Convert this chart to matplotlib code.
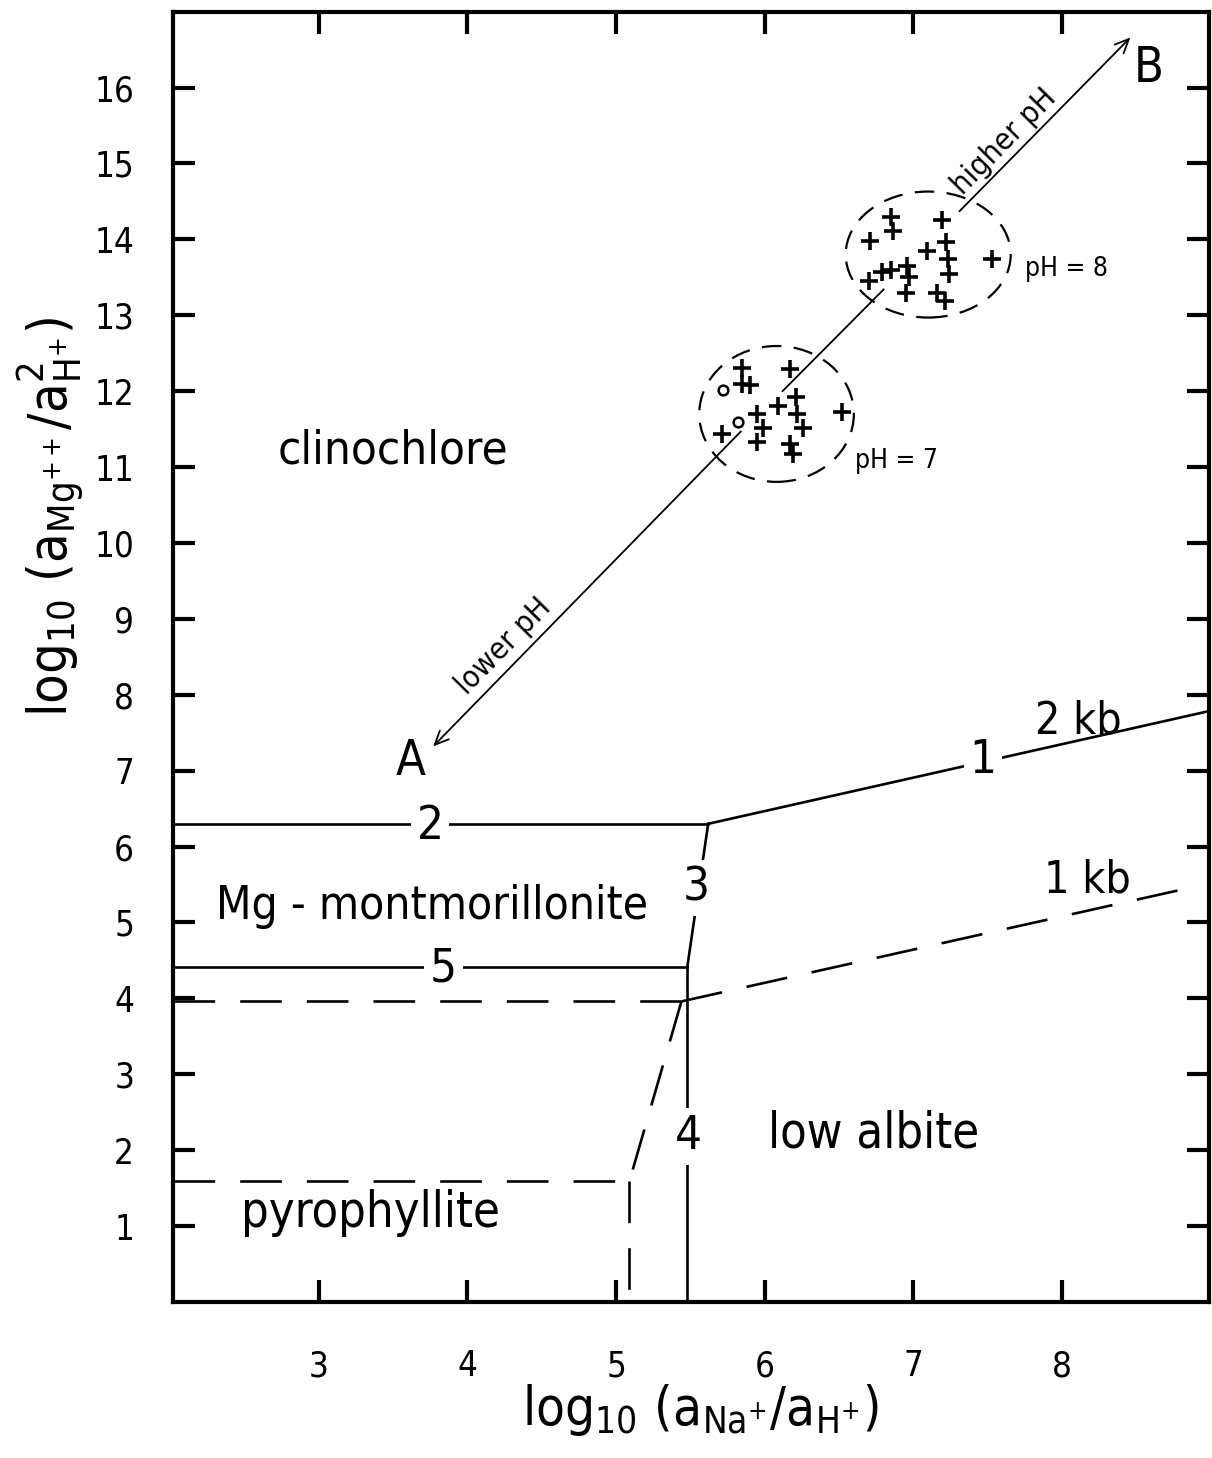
import matplotlib
matplotlib.use("Agg")
import matplotlib.pyplot as plt
from matplotlib.patches import Ellipse

plt.rcParams['font.family'] = ['DejaVu Sans']
plt.rcParams['font.stretch'] = 'condensed'
plt.rcParams['mathtext.default'] = 'regular'
plt.rcParams['lines.scale_dashes'] = False

# axes: log10(aNa+/aH+) vs log10(aMg++/a2H+)
x_ticks = [3, 4, 5, 6, 7, 8]
y_ticks = list(range(1, 17))

# 2 kb phase boundaries (solid), numbered as in the reaction list
bnd1_x, bnd1_y = [5.62, 9.00], [6.30, 7.79]
bnd2_x, bnd2_y = [2.02, 5.62], [6.30, 6.30]
bnd3_x, bnd3_y = [5.62, 5.48], [6.30, 4.42]
bnd4_x, bnd4_y = [5.48, 5.48], [4.42, 0.00]
bnd5_x, bnd5_y = [2.02, 5.48], [4.42, 4.42]

# 1 kb phase boundaries (dashed)
kb1_x = [[2.02, 5.44], [5.44, 8.89], [5.44, 5.09], [2.02, 5.09], [5.09, 5.09]]
kb1_y = [[3.96, 3.96], [3.96, 5.47], [3.96, 1.59], [1.59, 1.59], [1.59, 0.00]]

# measured fluids
ph7_x = [5.85, 6.17, 5.85, 5.90, 6.09, 6.21, 6.22, 6.26, 6.52, 5.71,
         5.95, 5.99, 5.95, 6.17, 6.19]
ph7_y = [12.30, 12.29, 12.09, 12.08, 11.80, 11.92, 11.70, 11.52, 11.72, 11.43,
         11.70, 11.52, 11.33, 11.30, 11.17]
ph7_open_x = [5.72, 5.82]
ph7_open_y = [12.02, 11.59]
ph8_x = [6.85, 6.86, 6.71, 7.19, 7.09, 7.22, 7.23, 7.24, 7.53, 6.70,
         6.79, 6.85, 6.96, 6.97, 6.95, 7.16, 7.21]
ph8_y = [14.30, 14.11, 13.98, 14.26, 13.85, 13.96, 13.74, 13.54, 13.74, 13.45,
         13.57, 13.59, 13.65, 13.50, 13.30, 13.30, 13.19]

# pH trend line A -> B, broken where it crosses the two groups
trend_x = [[3.77, 5.84], [6.12, 6.80], [7.31, 8.46]]
trend_y = [[7.32, 11.47], [12.00, 13.34], [14.37, 16.66]]

fig = plt.figure(figsize=(12.12, 14.58), dpi=100)
ax = fig.add_axes([0.1427, 0.107, 0.855, 0.885])

lw = 1.9
dash = (0, (30, 18))
ax.plot(bnd1_x, bnd1_y, color='black', lw=lw)
ax.plot(bnd2_x, bnd2_y, color='black', lw=lw)
ax.plot(bnd3_x, bnd3_y, color='black', lw=lw)
ax.plot(bnd4_x, bnd4_y, color='black', lw=lw)
ax.plot(bnd5_x, bnd5_y, color='black', lw=lw)
for xs, ys in zip(kb1_x, kb1_y):
    ax.plot(xs, ys, color='black', lw=lw, ls=dash)

ax.plot(ph7_x, ph7_y, ls='none', marker='+', ms=13, mew=2.6, color='black')
ax.plot(ph7_open_x, ph7_open_y, ls='none', marker='o', ms=7, mew=1.8,
        mfc='white', mec='black')
ax.plot(ph8_x, ph8_y, ls='none', marker='+', ms=13, mew=2.6, color='black')

ax.add_patch(Ellipse((6.08, 11.70), 1.04, 1.79, fill=False, lw=1.6,
                     ls=(0, (14, 9)), ec='black'))
ax.add_patch(Ellipse((7.10, 13.80), 1.11, 1.66, fill=False, lw=1.6,
                     ls=(0, (14, 9)), ec='black'))

# trend line with open arrow heads at both ends
head = '->,head_length=1.0,head_width=0.45'
ax.annotate('', xy=(trend_x[0][0], trend_y[0][0]), xytext=(trend_x[0][1], trend_y[0][1]),
            arrowprops=dict(arrowstyle=head, lw=1.3, color='black', shrinkA=0, shrinkB=0))
ax.plot(trend_x[1], trend_y[1], color='black', lw=1.3)
ax.annotate('', xy=(trend_x[2][1], trend_y[2][1]), xytext=(trend_x[2][0], trend_y[2][0]),
            arrowprops=dict(arrowstyle=head, lw=1.3, color='black', shrinkA=0, shrinkB=0))

ax.text(4.24, 8.64, 'lower pH', fontsize=22, rotation=45.5, ha='center', va='center')
ax.text(7.61, 15.29, 'higher pH', fontsize=22, rotation=45.5, ha='center', va='center')
ax.text(3.62, 7.13, 'A', fontsize=35, ha='center', va='center')
ax.text(8.58, 16.26, 'B', fontsize=35, ha='center', va='center')
ax.text(6.89, 11.08, 'pH = 7', fontsize=19, ha='center', va='center')
ax.text(8.03, 13.61, 'pH = 8', fontsize=19, ha='center', va='center')

# boundary numbers sit in gaps of their lines
gap = dict(facecolor='white', edgecolor='none', pad=4)
ax.text(3.75, 6.27, '2', fontsize=34, ha='center', va='center', bbox=gap)
ax.text(3.84, 4.39, '5', fontsize=34, ha='center', va='center', bbox=gap)
ax.text(5.54, 5.45, '3', fontsize=34, ha='center', va='center', bbox=gap)
ax.text(5.49, 2.18, '4', fontsize=34, ha='center', va='center', bbox=gap)
ax.text(7.47, 7.13, '1', fontsize=34, ha='center', va='center', bbox=gap)
ax.text(8.11, 7.66, '2 kb', fontsize=32, ha='center', va='center')
ax.text(8.17, 5.56, '1 kb', fontsize=32, ha='center', va='center')

# stability fields
ax.text(3.50, 11.21, 'clinochlore', fontsize=34, ha='center', va='center')
ax.text(3.76, 5.21, 'Mg - montmorillonite', fontsize=33, ha='center', va='center')
ax.text(6.73, 2.22, 'low albite', fontsize=35, ha='center', va='center')
ax.text(3.35, 1.17, 'pyrophyllite', fontsize=35, ha='center', va='center')

ax.set_xlim(2.02, 8.99)
ax.set_ylim(0, 17)
ax.set_xticks(x_ticks)
ax.set_yticks(y_ticks)
ax.tick_params(direction='in', length=16, width=3, top=True, right=True,
               labelsize=25)
ax.tick_params(axis='x', pad=34)
ax.tick_params(axis='y', pad=28)
for s in ax.spines.values():
    s.set_linewidth(3)

fig.text(700 / 1212, 1 - 1425 / 1458, r'$log_{10}\ (a_{Na^{+}}/a_{H^{+}})$',
         fontsize=38, ha='center', va='baseline')
fig.text(68 / 1212, 1 - 517 / 1458, r'$log_{10}\ (a_{Mg^{++}}/a^{2}_{H^{+}})$',
         fontsize=39, ha='center', va='baseline', rotation=90, rotation_mode='anchor')

fig.savefig('out.png', dpi=100)
